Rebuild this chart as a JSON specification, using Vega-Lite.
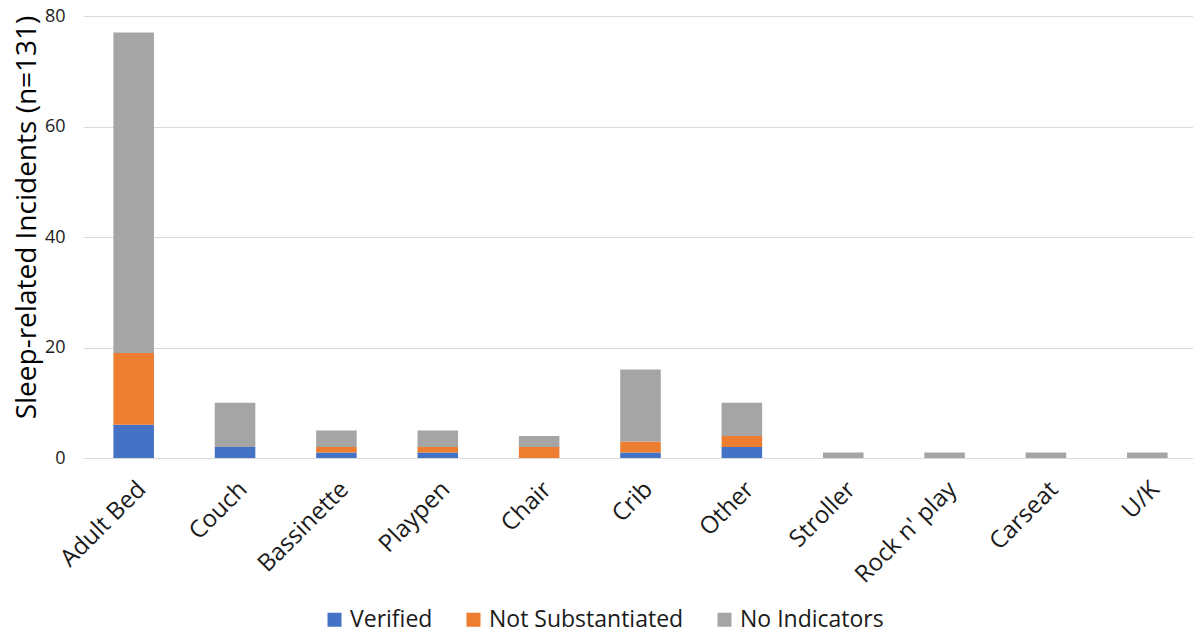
{
  "$schema": "https://vega.github.io/schema/vega-lite/v6.json",
  "width": 1115,
  "height": 442,
  "autosize": {"type": "none"},
  "padding": {"left": 83, "top": 16, "right": 0, "bottom": 176},
  "background": "white",
  "config": {"view": {"stroke": null}, "font": "Open Sans"},
  "data": {"values": [
    {"location": "Adult Bed", "status": "Verified", "count": 6},
    {"location": "Adult Bed", "status": "Not Substantiated", "count": 13},
    {"location": "Adult Bed", "status": "No Indicators", "count": 58},
    {"location": "Couch", "status": "Verified", "count": 2},
    {"location": "Couch", "status": "No Indicators", "count": 8},
    {"location": "Bassinette", "status": "Verified", "count": 1},
    {"location": "Bassinette", "status": "Not Substantiated", "count": 1},
    {"location": "Bassinette", "status": "No Indicators", "count": 3},
    {"location": "Playpen", "status": "Verified", "count": 1},
    {"location": "Playpen", "status": "Not Substantiated", "count": 1},
    {"location": "Playpen", "status": "No Indicators", "count": 3},
    {"location": "Chair", "status": "Not Substantiated", "count": 2},
    {"location": "Chair", "status": "No Indicators", "count": 2},
    {"location": "Crib", "status": "Verified", "count": 1},
    {"location": "Crib", "status": "Not Substantiated", "count": 2},
    {"location": "Crib", "status": "No Indicators", "count": 13},
    {"location": "Other", "status": "Verified", "count": 2},
    {"location": "Other", "status": "Not Substantiated", "count": 2},
    {"location": "Other", "status": "No Indicators", "count": 6},
    {"location": "Stroller", "status": "No Indicators", "count": 1},
    {"location": "Rock n' play", "status": "No Indicators", "count": 1},
    {"location": "Carseat", "status": "No Indicators", "count": 1},
    {"location": "U/K", "status": "No Indicators", "count": 1}
  ]},
  "mark": {"type": "bar"},
  "encoding": {
    "x": {
      "field": "location", "type": "nominal",
      "sort": ["Adult Bed", "Couch", "Bassinette", "Playpen", "Chair", "Crib", "Other", "Stroller", "Rock n' play", "Carseat", "U/K"],
      "scale": {"paddingInner": 0.6, "paddingOuter": 0.3},
      "axis": {
        "title": null, "labelAngle": -45, "labelAlign": "right", "labelBaseline": "top",
        "labelFontSize": 24, "labelColor": "#1a1a1a", "ticks": false,
        "domainColor": "#d9d9d9", "domainWidth": 1, "labelPadding": 19, "labelDx": -5
      }
    },
    "y": {
      "field": "count", "type": "quantitative", "aggregate": "sum",
      "scale": {"domain": [0, 80]},
      "axis": {
        "title": "Sleep-related Incidents (n=131)", "titleFontSize": 28, "titleFontWeight": "normal",
        "titleColor": "#000000", "titlePadding": 3, "titleY": 201,
        "values": [0, 20, 40, 60, 80], "labelFontSize": 18, "labelColor": "#1a1a1a",
        "ticks": false, "domain": false, "gridColor": "#d9d9d9", "labelPadding": 18
      }
    },
    "color": {
      "field": "status", "type": "nominal",
      "sort": ["Verified", "Not Substantiated", "No Indicators"],
      "scale": {"domain": ["Verified", "Not Substantiated", "No Indicators"], "range": ["#4472C4", "#ED7D31", "#A5A5A5"]},
      "legend": {
        "title": null, "orient": "none", "direction": "horizontal",
        "legendX": 240, "legendY": 592, "labelLimit": 400,
        "symbolType": "square", "symbolSize": 196, "symbolStrokeWidth": 0,
        "labelFontSize": 23, "labelColor": "#1a1a1a", "columnPadding": 29, "labelOffset": 4
      }
    },
    "order": {"field": "status", "sort": "descending"}
  }
}
